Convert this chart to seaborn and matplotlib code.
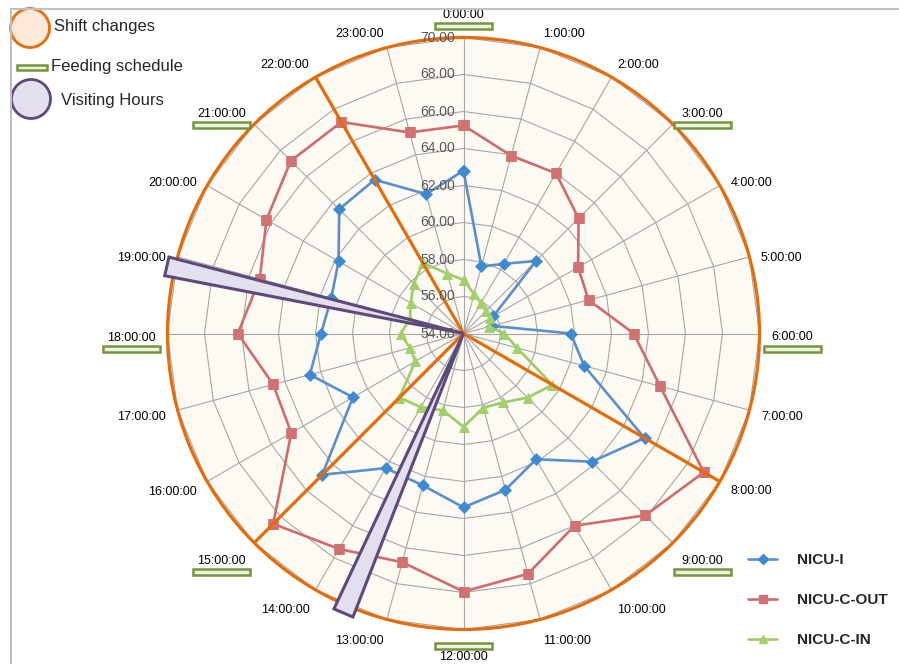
import numpy as np
import matplotlib
matplotlib.use("Agg")
import matplotlib.pyplot as plt
import matplotlib.patches as mpatches
import matplotlib.transforms as mtransforms
from matplotlib.lines import Line2D
import seaborn as sns

sns.set_style("white")
plt.rcParams["font.family"] = ["Liberation Sans", "DejaVu Sans"]

# ---- data -------------------------------------------------------------
hour_labels = [
    "0:00:00", "1:00:00", "2:00:00", "3:00:00", "4:00:00", "5:00:00",
    "6:00:00", "7:00:00", "8:00:00", "9:00:00", "10:00:00", "11:00:00",
    "12:00:00", "13:00:00", "14:00:00", "15:00:00", "16:00:00", "17:00:00",
    "18:00:00", "19:00:00", "20:00:00", "21:00:00", "22:00:00", "23:00:00",
]
nicu_i = [62.8, 57.75, 58.35, 59.55, 55.85, 55.6, 59.8, 60.75, 65.3, 63.8,
          61.85, 62.75, 63.4, 62.5, 62.4, 64.8, 60.9, 62.6, 61.7, 61.4,
          61.8, 63.5, 63.6, 61.8]
nicu_c_out = [65.25, 63.95, 64.0, 62.8, 61.15, 61.0, 63.2, 65.0, 69.0, 67.9,
              66.0, 67.45, 67.95, 66.8, 67.45, 68.55, 64.75, 64.65, 66.2, 65.4,
              66.3, 67.2, 67.2, 65.25]
nicu_c_in = [56.9, 56.2, 55.9, 55.7, 55.65, 55.45, 56.2, 57.0, 59.55, 58.9,
             58.3, 58.15, 59.05, 58.3, 58.6, 58.9, 57.0, 57.0, 57.4, 57.0,
             57.3, 57.8, 58.4, 57.35]
series_names = ["NICU-I", "NICU-C-OUT", "NICU-C-IN"]
radial_ticks = [54, 56, 58, 60, 62, 64, 66, 68, 70]

shift_change_hours = [8, 15, 22]
feeding_hours = [0, 3, 6, 9, 12, 15, 18, 21]
visiting_windows = [(13.42, 13.68), (18.73, 18.97)]

# ---- styles -----------------------------------------------------------
line_colors = ["#5b8fcc", "#cf6c6b", "#9ccb6a"]
marker_colors = ["#3d8ad2", "#d27270", "#a2d06c"]
markers = ["D", "s", "^"]
marker_sizes = [6.5, 7, 7.5]
ORANGE = "#e46c0a"
PURPLE = "#5f497a"
FEED_GREEN = "#77933c"
GRID = "#a6a6a6"

W, H, DPI = 899, 664, 100
fig = plt.figure(figsize=(W / DPI, H / DPI), dpi=DPI)
fig.patch.set_facecolor("white")

cx, cy, R = 463.5, 333.5, 296.0
ax = fig.add_axes([(cx - R) / W, (H - cy - R) / H, 2 * R / W, 2 * R / H],
                  projection="polar")
ax.set_theta_zero_location("N")
ax.set_theta_direction(-1)
ax.set_facecolor("#fdfaf3")

n = len(hour_labels)
theta = np.deg2rad(np.arange(n) * 360.0 / n)
theta_closed = np.append(theta, 2 * np.pi)

# spokes at every hour, polygon web for the value grid
ax.set_xticks(theta)
ax.set_xticklabels([])
ax.set_yticks([])
ax.xaxis.grid(True, color=GRID, lw=0.8)
ax.yaxis.grid(False)
for v in radial_ticks[1:]:
    ax.plot(theta_closed, [v] * (n + 1), color=GRID, lw=0.8, zorder=1)

# the three series
values = [nicu_i, nicu_c_out, nicu_c_in]
for name, vals, lc, mc, mk, ms in zip(series_names, values, line_colors,
                                       marker_colors, markers, marker_sizes):
    sns.lineplot(x=theta_closed, y=list(vals) + [vals[0]], ax=ax, sort=False,
                 estimator=None, color=lc, lw=1.9, marker=mk, markersize=ms,
                 markerfacecolor=mc, markeredgecolor=mc, markeredgewidth=0.5,
                 label=name, zorder=3)
if ax.get_legend() is not None:
    ax.get_legend().remove()
ax.set_xlabel("")
ax.set_ylabel("")
ax.set_ylim(54, 70)

ax.spines["polar"].set_color(ORANGE)
ax.spines["polar"].set_linewidth(2.3)

# shift changes
for h in shift_change_hours:
    t = np.deg2rad(h * 15)
    ax.plot([t, t], [54, 70], color=ORANGE, lw=2.3, zorder=6,
            solid_capstyle="butt")

# visiting hours wedges
for h0, h1 in visiting_windows:
    t0, t1 = np.deg2rad(h0 * 15), np.deg2rad(h1 * 15)
    ax.fill([t0, t0, t1], [54, 70.45, 70.45], facecolor="#e4dfee",
            edgecolor=PURPLE, lw=2.2, zorder=7, clip_on=False,
            joinstyle="miter")

# value labels along the 0:00 spoke
for v in radial_ticks:
    ax.annotate(f"{v:.2f}", xy=(0, v), xytext=(-6, 0),
                textcoords="offset points", ha="right", va="center",
                fontsize=10, color="#595959", zorder=8, annotation_clip=False)

# hour labels around the rim
hour_texts = {}
for h, lab in enumerate(hour_labels):
    th = theta[h]
    s, c = np.sin(th), np.cos(th)
    gap = 12
    if h in feeding_hours and abs(c) > 0.99:
        gap += 9 if c > 0 else 5
    ha = "left" if s > 0.1 else ("right" if s < -0.1 else "center")
    va = "bottom" if c > 0.55 else ("top" if c < -0.55 else "center")
    off_x = gap * s
    off_y = gap * c - 4
    hour_texts[h] = ax.annotate(lab, xy=(th, 70),
                                xytext=(off_x * 72 / DPI, off_y * 72 / DPI),
                                textcoords="offset points", ha=ha, va=va,
                                fontsize=9, color="black",
                                annotation_clip=False)

# series legend
handles = [Line2D([], [], color=lc, lw=1.9, marker=mk, markersize=ms * 0.85,
                  markerfacecolor=mc, markeredgecolor=mc)
           for lc, mc, mk, ms in zip(line_colors, marker_colors, markers,
                                     marker_sizes)]
fig.legend(handles, series_names, loc="upper left",
           bbox_to_anchor=(748 / W, 1 - 553 / H), frameon=False,
           prop={"weight": "bold", "size": 11}, handlelength=1.9,
           handletextpad=1.3, labelspacing=1.7, borderpad=0,
           borderaxespad=0)

ident = mtransforms.IdentityTransform()


def px(x, y_top):
    return (x, H - y_top)


# key for the overlays (top left)
fig.add_artist(mpatches.Circle(px(30, 28), 19.5, transform=ident,
                               facecolor="#fde9d9", edgecolor=ORANGE, lw=2))
fig.add_artist(mpatches.Rectangle(px(17, 70), 30, 5, transform=ident,
                                  facecolor="#eef4e2", edgecolor=FEED_GREEN,
                                  lw=1.8))
fig.add_artist(mpatches.Circle(px(31, 99), 19.5, transform=ident,
                               facecolor="#e4dfec", edgecolor=PURPLE, lw=2))
fig.text(54 / W, 1 - 27 / H, "Shift changes", fontsize=12, va="center")
fig.text(51 / W, 1 - 66.5 / H, "Feeding schedule", fontsize=12, va="center")
fig.text(61 / W, 1 - 100 / H, "Visiting Hours", fontsize=12, va="center")

# chart frame
fig.add_artist(Line2D([11, W], [H - 9, H - 9], transform=ident,
                      color="#c0c0c0", lw=1.5))
fig.add_artist(Line2D([11, 11], [0, H - 9], transform=ident,
                      color="#c0c0c0", lw=1.5))

# feeding schedule bars next to their hour labels
fig.canvas.draw()
for h in feeding_hours:
    bb = hour_texts[h].get_window_extent()
    xc = 0.5 * (bb.x0 + bb.x1)
    yc = 0.5 * (bb.y0 + bb.y1)
    yb = yc + 11 if np.cos(theta[h]) < -0.99 else yc - 11
    fig.add_artist(mpatches.Rectangle((xc - 28.5, yb - 3), 57, 6,
                                      transform=ident, facecolor="#eef4e2",
                                      edgecolor=FEED_GREEN, lw=1.8))

fig.savefig("out.png", dpi=DPI)
